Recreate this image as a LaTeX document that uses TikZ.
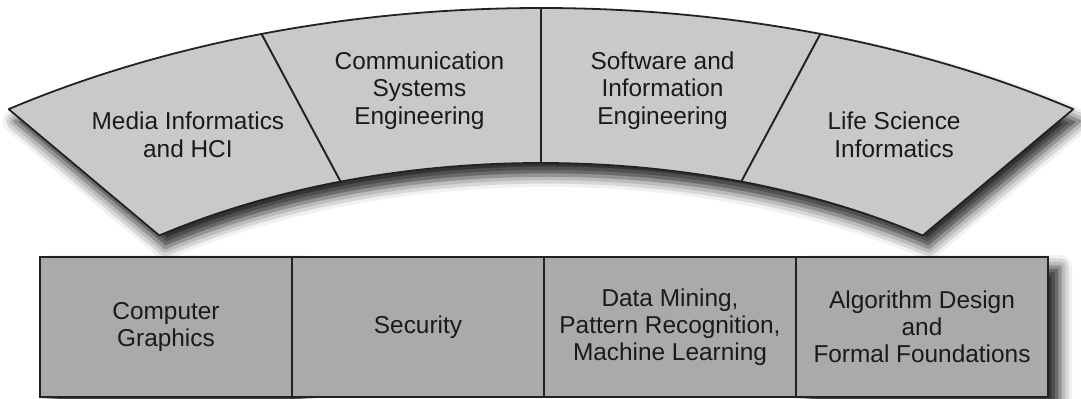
\documentclass[tikz,border=0pt]{standalone}
\usepackage{fontspec}
\setmainfont{Liberation Sans}
\usepackage{tikz}
\usetikzlibrary{calc,positioning,shadows.blur}
\definecolor{ink}{HTML}{1A1A1A}
\definecolor{edge}{HTML}{222222}
\definecolor{archfill}{HTML}{C9C9C9}
\definecolor{boxfill}{HTML}{AAAAAA}
\tikzset{
  band/.style={fill=archfill, blur shadow={shadow xshift=3pt, shadow yshift=-6pt, shadow blur radius=6pt, shadow opacity=85}},
  seg/.style={draw=edge, fill=archfill, line width=0.9pt, line join=round},
  lab/.style={text=ink, align=center, font=\fontsize{12.2}{13.8}\selectfont},
  cell/.style={draw=edge, fill=boxfill, line width=0.9pt, outer sep=0pt,
    minimum width=126pt, minimum height=70pt, text=ink, align=center,
    font=\fontsize{12.2}{13.4}\selectfont},
  cellshadow/.style={blur shadow={shadow xshift=6pt, shadow yshift=-5pt, shadow blur radius=6pt, shadow opacity=85}},
}
\begin{document}
\begin{tikzpicture}[x=0.5pt, y=0.5pt]
\useasboundingbox (0,0) rectangle (1081,398);
\coordinate (c) at (541,-157);
% arch band with its shadow
\path[band] ($(c)+(125.4:919 and 547)$)
  arc[start angle=125.4, end angle=54.6, x radius=919, y radius=547]
  -- ($(c)+(54.6:659 and 392)$)
  arc[start angle=54.6, end angle=125.4, x radius=659, y radius=392] -- cycle;
% the four fields
\foreach \a/\b/\m/\name/\txt in {
  125.4/107.7/116.55/media/{Media Informatics\\and HCI},
  107.7/90/98.85/comm/{Communication\\Systems\\Engineering},
  90/72.3/81.15/soft/{Software and\\Information\\Engineering},
  72.3/54.6/63.45/life/{Life Science\\Informatics}} {
  \draw[seg] ($(c)+(\a:919 and 547)$)
    arc[start angle=\a, end angle=\b, x radius=919, y radius=547]
    -- ($(c)+(\b:659 and 392)$)
    arc[start angle=\b, end angle=\a, x radius=659, y radius=392] -- cycle;
  \node[lab] (\name) at ($(c)+(\m:790 and 470)$) {\txt};
}
% foundations row
\node[cell, cellshadow] (graphics) at (166,71) {Computer\\Graphics};
\node[cell, right=0pt of graphics] (security) {Security};
\node[cell, right=0pt of security] (mining) {Data Mining,\\Pattern Recognition,\\Machine Learning};
\node[cell, cellshadow, right=0pt of mining] (algo) {Algorithm Design\\and\\Formal Foundations};
\end{tikzpicture}
\end{document}
